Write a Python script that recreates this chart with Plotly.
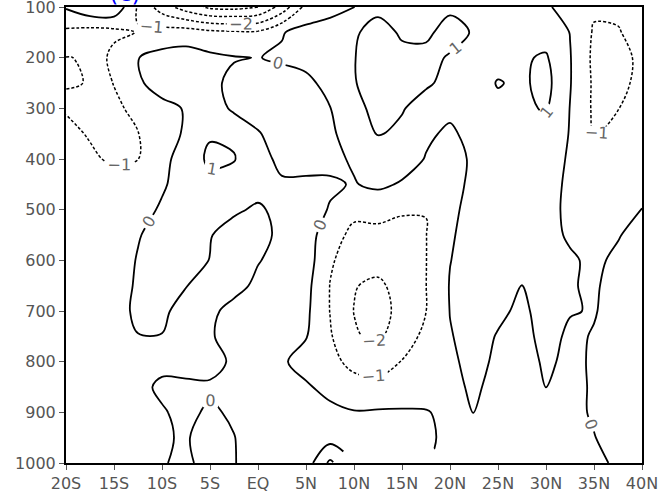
import numpy as np
import plotly.graph_objects as go

nan = float("nan")

# latitude grid (deg, negative = south) and pressure levels (hPa)
lats = [-20, -17.5, -15, -12.5, -10, -7.5, -5, -2.5, 0, 2.5, 5, 7.5, 10,
        12.5, 15, 17.5, 20, 22.5, 25, 27.5, 30, 32.5, 35, 37.5, 40]
levels = [100, 150, 200, 250, 300, 350, 400, 450, 500, 550, 600, 650, 700,
          750, 800, 850, 900, 950, 1000]

# field values, one row per pressure level
p100 = [0.1, 0.8, 0.8, -1.1, -2.5, -3.5, -4.2, -4.3, -4.0, -2.6, -0.7, -0.3, -0.02, 0.8, 0.7, 0.75, 0.9, 0.7, 0.5, 0.4, 0.1, -0.3, -0.85, -0.85, -0.6]
p150 = [-1.2, -1.4, -1.3, -0.95, -0.6, -0.5, -0.75, -0.85, -0.85, -0.05, 0.3, 0.4, 0.9, 1.3, 0.9, 0.9, 1.2, 0.95, 0.6, 0.5, 0.6, -0.02, -1.1, -1.05, -0.7]
p200 = [-2.02, -1.95, -0.6, -0.02, 0.3, 0.4, 0.2, 0.05, -0.02, 0.1, 0.2, 0.3, 0.97, 1.4, 1.2, 1.15, 0.95, 0.6, 0.7, 0.9, 1.1, 0.05, -1.2, -1.3, -0.8]
p250 = [-2.3, -1.87, -0.95, -0.1, 0.3, 0.5, 0.2, -0.2, -0.3, -0.3, -0.15, 0.2, 0.95, 1.4, 1.3, 1.1, 0.8, 0.6, 1.05, 0.85, 1.3, 0.05, -1.15, -1.3, -0.7]
p300 = [-1.05, -1.5, -1.3, -0.6, -0.2, 0.05, 0.6, -0.2, -0.3, -0.35, -0.3, -0.02, 0.7, 1.3, 1.05, 0.7, 0.2, 0.5, 0.8, 0.8, 1.1, -0.02, -1.15, -1.02, -0.6]
p350 = [-0.85, -1.05, -1.3, -1.03, -0.35, 0.1, 0.9, 0.85, 0.05, -0.3, -0.35, -0.2, 0.55, 1.05, 0.85, 0.15, -0.15, 0.3, 0.6, 0.6, 0.7, -0.05, -1.05, -0.8, -0.5]
p400 = [-0.7, -0.9, -1.1, -1.01, -0.25, 0.4, 1.2, 1.05, 0.3, -0.2, -0.3, -0.2, 0.1, 0.5, 0.45, -0.05, -0.35, 0.15, 0.5, 0.5, 0.4, -0.1, -0.7, -0.55, -0.4]
p450 = [-0.6, -0.6, -0.7, -0.6, -0.1, 0.35, 0.7, 0.6, 0.4, 0.1, 0.15, 0.1, -0.05, 0.2, -0.1, -0.4, -0.3, 0.2, 0.45, 0.45, 0.3, -0.15, -0.6, -0.5, -0.35]
p500 = [-0.55, -0.5, -0.55, -0.3, 0.1, 0.4, 0.35, 0.15, -0.15, 0.3, 0.35, -0.05, -0.7, -0.75, -0.9, -0.99, -0.2, 0.3, 0.45, 0.4, 0.3, -0.2, -0.45, -0.3, 0.02]
p550 = [-0.5, -0.45, -0.45, -0.05, 0.3, 0.4, 0.05, -0.4, -0.35, 0.25, 0.4, -0.5, -1.3, -1.2, -1.3, -1.02, -0.1, 0.35, 0.45, 0.4, 0.25, -0.1, -0.3, -0.05, 0.3]
p600 = [-0.45, -0.45, -0.4, 0.05, 0.35, 0.3, -0.02, -0.45, -0.05, 0.3, 0.5, -0.9, -1.4, -1.6, -1.4, -1.02, -0.02, 0.35, 0.4, 0.3, 0.25, 0.1, -0.15, 0.15, 0.5]
p650 = [-0.4, -0.4, -0.35, 0.1, 0.3, 0.03, -0.4, -0.3, 0.2, 0.4, 0.3, -1.02, -1.95, -2.2, -1.6, -1.01, 0.05, 0.4, 0.3, -0.02, 0.2, 0.05, -0.1, 0.3, 0.6]
p700 = [-0.4, -0.35, -0.3, 0.15, 0.15, -0.3, -0.2, 0.3, 0.5, 0.5, 0.2, -1.02, -2.02, -2.5, -1.6, -1.01, 0.02, 0.3, 0.15, -0.15, 0.3, 0.05, -0.05, 0.3, 0.6]
p750 = [-0.4, -0.35, -0.3, -0.02, -0.02, -0.3, -0.1, 0.4, 0.6, 0.45, 0.05, -0.9, -1.9, -2.2, -1.4, -0.8, -0.05, 0.3, -0.05, -0.3, 0.3, -0.15, 0.05, 0.4, 0.6]
p800 = [-0.4, -0.35, -0.3, -0.2, -0.15, -0.2, -0.25, 0.12, 0.6, 0.1, -0.3, -0.7, -1.3, -1.35, -0.97, -0.5, -0.15, 0.25, -0.15, -0.4, 0.15, -0.2, 0.1, 0.45, 0.6]
p850 = [-0.4, -0.35, -0.3, -0.15, 0.1, 0.1, 0.1, 0.3, 0.5, 0.4, 0.1, -0.25, -0.6, -0.75, -0.6, -0.4, -0.25, 0.15, -0.3, -0.45, 0.02, -0.25, 0.1, 0.45, 0.6]
p900 = [-0.35, -0.3, -0.25, -0.2, -0.05, 0.15, -0.1, 0.1, 0.4, 0.5, 0.4, 0.2, 0.05, 0.1, 0.1, 0.05, -0.2, 0.02, -0.35, -0.45, -0.35, -0.25, 0.1, 0.4, 0.5]
p950 = [-0.35, -0.3, -0.25, -0.2, -0.08, 0.08, -0.4, -0.02, 0.35, 0.45, 0.5, 0.6, 0.3, 0.3, 0.3, 0.15, -0.2, -0.2, -0.3, -0.35, -0.3, -0.25, -0.03, 0.35, 0.5]
p1000 = [-0.35, -0.3, -0.25, -0.2, -0.05, 0.15, -0.3, -0.03, 0.3, 0.4, 0.5, 2.2, nan, nan, nan, nan, -0.3, -0.25, -0.3, -0.35, -0.3, -0.25, -0.15, 0.1, 0.4]

rows = [p100, p150, p200, p250, p300, p350, p400, p450, p500, p550, p600,
        p650, p700, p750, p800, p850, p900, p950, p1000]

x_tickvals = [-20, -15, -10, -5, 0, 5, 10, 15, 20, 25, 30, 35, 40]
x_ticktext = ["20S", "15S", "10S", "5S", "EQ", "5N", "10N", "15N", "20N",
              "25N", "30N", "35N", "40N"]
y_tickvals = [100, 200, 300, 400, 500, 600, 700, 800, 900, 1000]

z = np.array(rows, dtype=float)

tick_font = dict(family="DejaVu Sans", size=16, color="#555555")
label_font = dict(family="DejaVu Sans", size=16, color="#666666")
black = [[0, "black"], [1, "black"]]

fig = go.Figure()
fig.add_trace(go.Contour(
    x=lats, y=levels, z=z, colorscale=black, showscale=False,
    contours=dict(start=-5, end=-1, size=1, coloring="lines",
                  showlabels=True, labelfont=label_font),
    line=dict(width=1.5, dash="3px,2px", smoothing=1.0),
    hoverinfo="skip",
))
fig.add_trace(go.Contour(
    x=lats, y=levels, z=z, colorscale=black, showscale=False,
    contours=dict(start=0, end=3, size=1, coloring="lines",
                  showlabels=True, labelfont=label_font),
    line=dict(width=1.8, smoothing=1.0),
    hoverinfo="skip",
))

fig.add_annotation(
    text="(c)", xref="paper", yref="paper", x=0.103, y=0.9956,
    xanchor="center", yanchor="bottom", showarrow=False,
    font=dict(family="DejaVu Sans", size=24, color="blue"),
)

axis_common = dict(showline=True, linecolor="black", linewidth=2, mirror=True,
                   showgrid=False, zeroline=False, ticks="outside", ticklen=5,
                   tickwidth=1, tickcolor="#555555", tickfont=tick_font,
                   automargin=False, ticklabeloverflow="allow")

fig.update_xaxes(range=[-20, 40], tickvals=x_tickvals, ticktext=x_ticktext,
                 **axis_common)
fig.update_yaxes(range=[1000, 100], tickvals=y_tickvals,
                 ticktext=[str(v) for v in y_tickvals], **axis_common)

fig.update_layout(
    width=660, height=496,
    margin=dict(l=66, r=18, t=7, b=33),
    plot_bgcolor="white", paper_bgcolor="white",
    showlegend=False,
)

fig.write_html("out.html",
               config={"displayModeBar": False},
               post_script="document.body.style.margin='0px';"
                           "document.body.style.overflow='hidden';")
